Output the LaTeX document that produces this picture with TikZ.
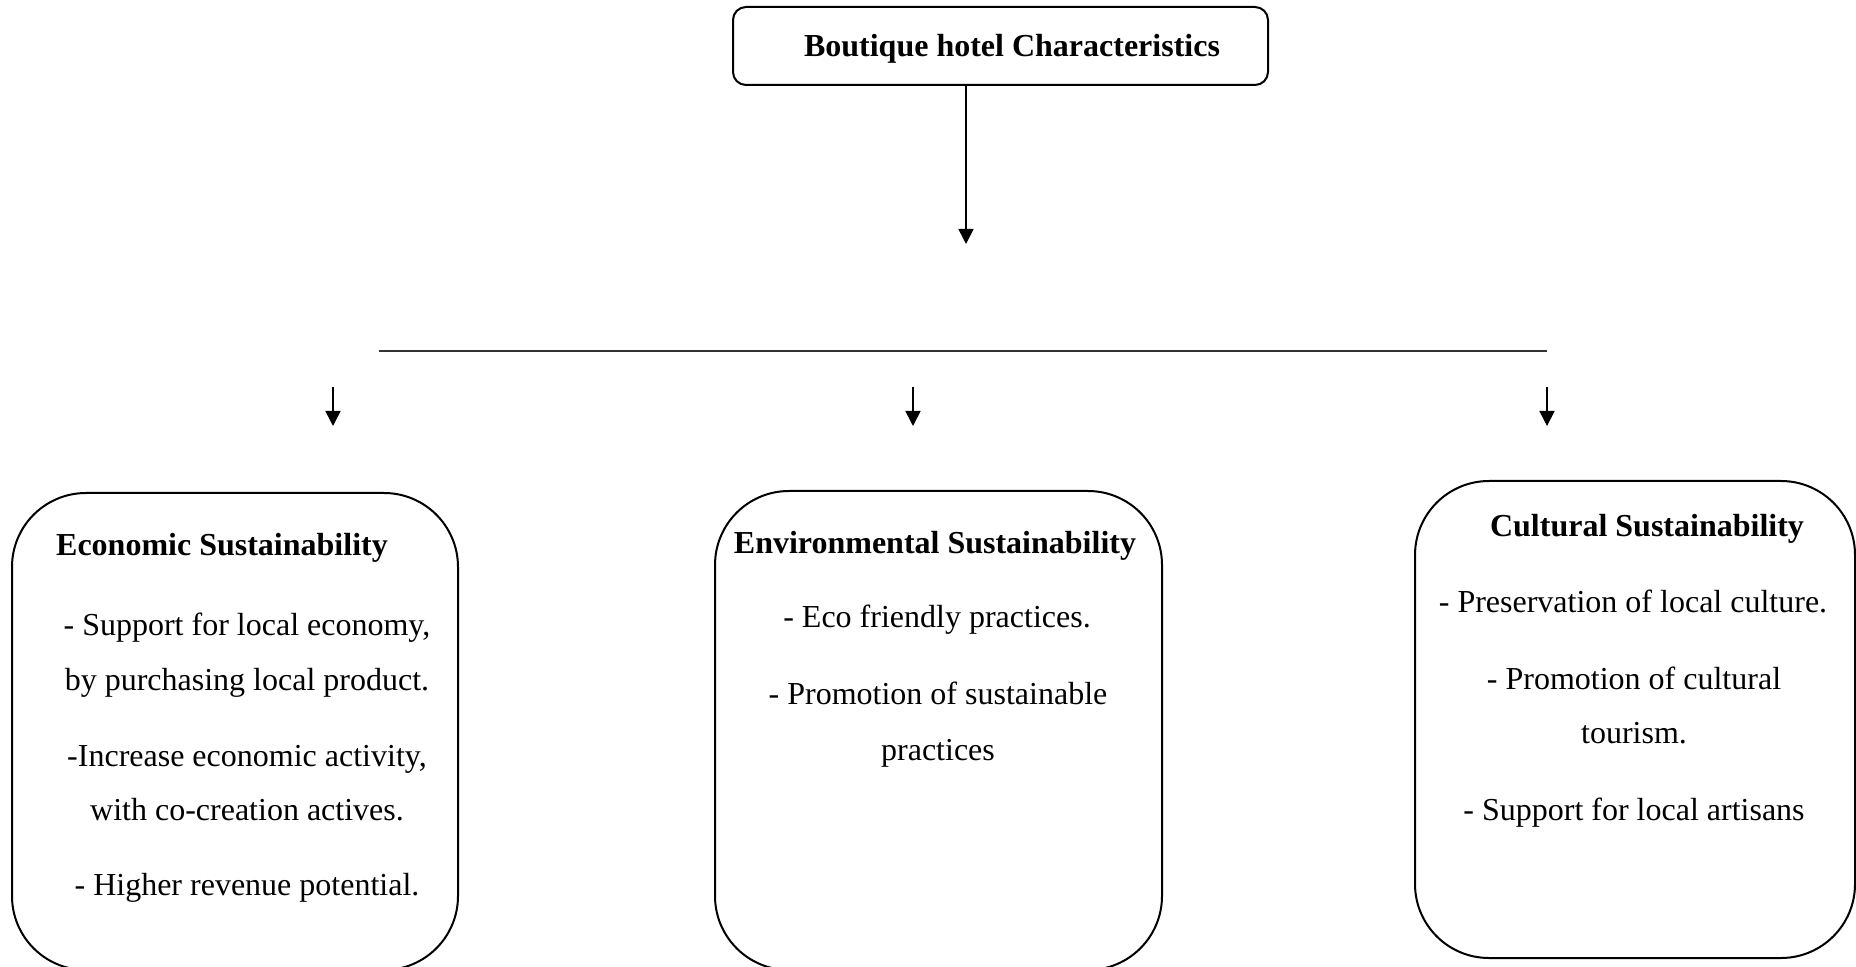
\documentclass[tikz,border=0pt]{standalone}
\usepackage{fontspec}
\setmainfont{Liberation Serif}
\usetikzlibrary{arrows.meta}
\begin{document}
\begin{tikzpicture}[x=0.5pt,y=-0.5pt,
  txt/.style={font=\fontsize{16}{19}\selectfont, anchor=base, inner sep=0pt},
  ttl/.style={font=\fontsize{16}{19}\selectfont\bfseries, anchor=base, inner sep=0pt},
  bigbox/.style={draw, line width=1pt, rounded corners=37pt, inner sep=0pt},
  topbox/.style={draw, line width=1pt, rounded corners=6.5pt, inner sep=0pt},
  arr/.style={-{Triangle[width=7.5pt,length=7.5pt]}, line width=0.8pt},
  hline/.style={line width=1pt, draw=black!80}]
\useasboundingbox (0,0) rectangle (1856,967);

% top box
\node[topbox, minimum width=267.5pt, minimum height=39pt] (top) at (1000.5,46) {};
\node[ttl] (toptext) at (1012,57) {Boutique hotel Characteristics};

% main arrow
\coordinate (a1) at (966,244);
\draw[arr] (top.south -| a1) -- (a1);

% horizontal line
\coordinate (hl) at (379,351);
\coordinate (hr) at (1547,351);
\draw[hline] (hl) -- (hr);

% small arrows
\coordinate (s1t) at (333,387); \coordinate (s1b) at (333,426);
\coordinate (s2t) at (913,387); \coordinate (s2b) at (913,426);
\coordinate (s3t) at (1547,387); \coordinate (s3b) at (1547,426);
\draw[arr] (s1t) -- (s1b);
\draw[arr] (s2t) -- (s2b);
\draw[arr] (s3t) -- (s3b);

% boxes
\node[bigbox, minimum width=223pt, minimum height=238.5pt] (eco) at (235,731.5) {};
\node[bigbox, minimum width=223.5pt, minimum height=239.5pt] (env) at (938.5,730.5) {};
\node[bigbox, minimum width=220pt, minimum height=238.5pt] (cul) at (1635,719.5) {};

% economic text
\node[ttl] (e0) at (222,555) {Economic Sustainability};
\node[txt] (e1) at (247,635) {- Support for local economy,};
\node[txt] (e2) at (247,690) {by purchasing local product.};
\node[txt] (e3) at (247,766) {-Increase economic activity,};
\node[txt] (e4) at (247,820) {with co-creation actives.};
\node[txt] (e5) at (247,895) {- Higher revenue potential.};

% environmental text
\node[ttl] (v0) at (935,553) {Environmental Sustainability};
\node[txt] (v1) at (937,627) {- Eco friendly practices.};
\node[txt] (v2) at (938,704) {- Promotion of sustainable};
\node[txt] (v3) at (938,760) {practices};

% cultural text
\node[ttl] (c0) at (1647,537) {Cultural Sustainability};
\node[txt] (c1) at (1633,612) {- Preservation of local culture.};
\node[txt] (c2) at (1634,689) {- Promotion of cultural};
\node[txt] (c3) at (1634,743) {tourism.};
\node[txt] (c4) at (1634,820) {- Support for local artisans};
\end{tikzpicture}
\end{document}
